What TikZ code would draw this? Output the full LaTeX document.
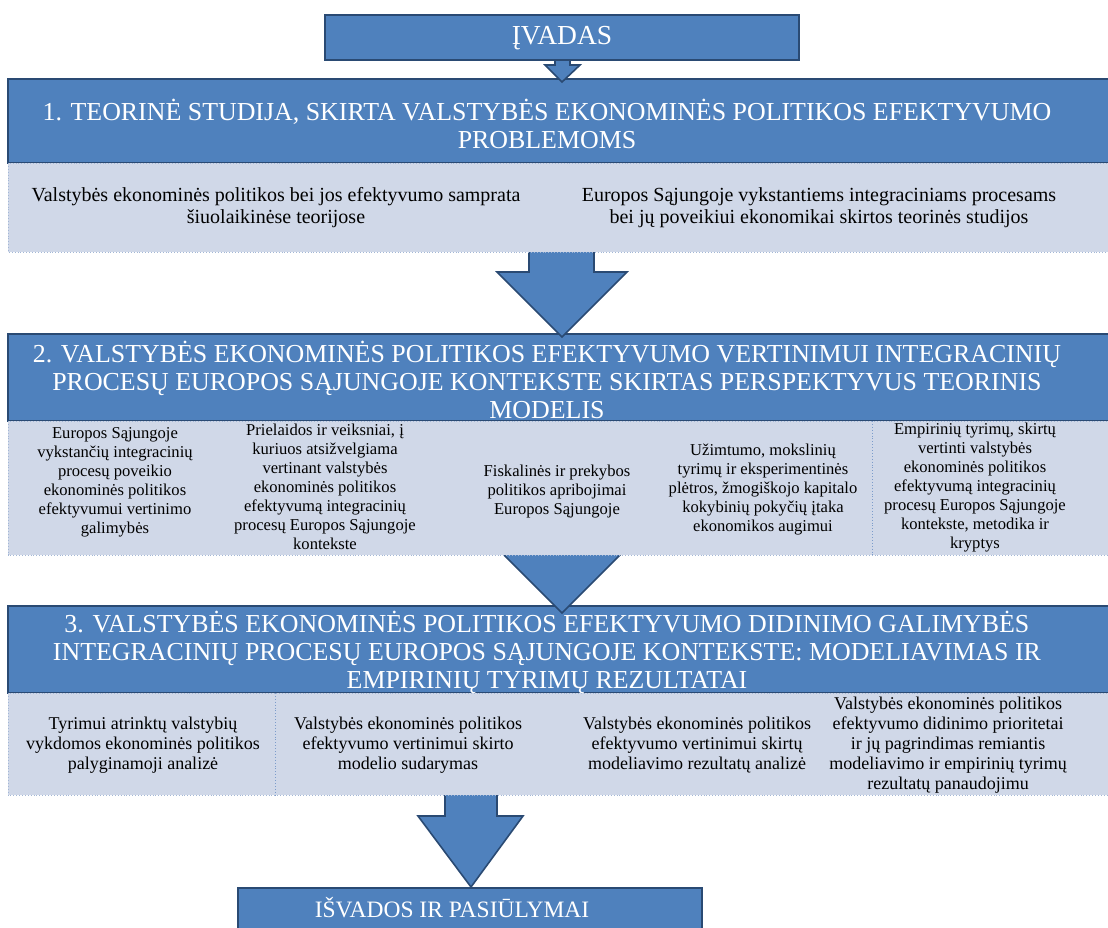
\documentclass[tikz,border=0pt]{standalone}
\usepackage{fontspec}
\setmainfont{Liberation Serif}
\definecolor{hdr}{HTML}{4F81BD}
\definecolor{navy}{HTML}{2A4A73}
\definecolor{bodyfill}{HTML}{D0D8E8}
\definecolor{dotc}{HTML}{A3B7D6}
\definecolor{sepc}{HTML}{7C9CCB}
\begin{document}
\begin{tikzpicture}[x=1pt,y=-1pt,
  hdrbox/.style={draw=navy,line width=1.6pt,fill=hdr},
  bodybox/.style={draw=dotc,dotted,line width=0.9pt,fill=bodyfill},
  colsep/.style={draw=sepc,dotted,line width=0.9pt},
  blockarrow/.style={draw=navy,line width=1.6pt,fill=hdr,line join=miter},
  htext/.style={text=white,align=center,inner sep=0pt,font=\fontsize{25.9}{28}\selectfont},
  ptext/.style={text=black,align=center,inner sep=0pt,font=\fontsize{16.6}{19}\selectfont},
  qtext/.style={text=black,align=center,inner sep=0pt,font=\fontsize{18}{20}\selectfont},
  rtext/.style={text=black,align=center,inner sep=0pt,font=\fontsize{20}{22}\selectfont}]
\useasboundingbox (0,0) rectangle (1108,927);
\clip (0,0) rectangle (1108,927);

% closing box
\path[hdrbox] (238,888) rectangle (702,940);
\node[htext,font=\fontsize{23.5}{26}\selectfont] (end) at (452,908) {IŠVADOS IR PASIŪLYMAI};

% arrow from part 3
\coordinate (a3tip) at (471,887);
\path[blockarrow] (445,780) -- (445,816) -- (418,816) -- (a3tip) -- (523,816) -- (497,816) -- (497,780) -- cycle;

% part 3
\path[hdrbox] (8,606) rectangle (1118,693);
\path[bodybox] (8,693) rectangle (1118,795);
\draw[colsep] (275,693) -- (275,795);
\node[htext] (h3) at (547,652) {3. VALSTYBĖS EKONOMINĖS POLITIKOS EFEKTYVUMO DIDINIMO GALIMYBĖS\\
INTEGRACINIŲ PROCESŲ EUROPOS SĄJUNGOJE KONTEKSTE: MODELIAVIMAS IR\\
EMPIRINIŲ TYRIMŲ REZULTATAI};
\node[qtext] (d1) at (143,745) {Tyrimui atrinktų valstybių\\ vykdomos ekonominės politikos\\ palyginamoji analizė};
\node[qtext] (d2) at (408,745) {Valstybės ekonominės politikos\\ efektyvumo vertinimui skirto\\ modelio sudarymas};
\node[qtext] (d3) at (697,745) {Valstybės ekonominės politikos\\ efektyvumo vertinimui skirtų\\ modeliavimo rezultatų analizė};
\node[qtext] (d4) at (948,745) {Valstybės ekonominės politikos\\ efektyvumo didinimo prioritetai\\ ir jų pagrindimas remiantis\\ modeliavimo ir empirinių tyrimų\\ rezultatų panaudojimu};

% arrow from part 2
\coordinate (a2tip) at (562,613);
\path[blockarrow] (529,530) -- (529,548) -- (497,548) -- (a2tip) -- (627,548) -- (594,548) -- (594,530) -- cycle;

% part 2
\path[hdrbox] (8,334) rectangle (1118,421);
\path[bodybox] (8,421) rectangle (1118,555);
\draw[colsep] (872,421) -- (872,555);
\node[htext] (h2) at (547,380) {2. VALSTYBĖS EKONOMINĖS POLITIKOS EFEKTYVUMO VERTINIMUI INTEGRACINIŲ\\
PROCESŲ EUROPOS SĄJUNGOJE KONTEKSTE SKIRTAS PERSPEKTYVUS TEORINIS\\
MODELIS};
\node[ptext] (c1) at (115,482) {Europos Sąjungoje\\ vykstančių integracinių\\ procesų poveikio\\ ekonominės politikos\\ efektyvumui vertinimo\\ galimybės};
\node[ptext] (c2) at (325,487) {Prielaidos ir veiksniai, į\\ kuriuos atsižvelgiama\\ vertinant valstybės\\ ekonominės politikos\\ efektyvumą integracinių\\ procesų Europos Sąjungoje\\ kontekste};
\node[ptext] (c3) at (557,492) {Fiskalinės ir prekybos\\ politikos apribojimai\\ Europos Sąjungoje};
\node[ptext] (c4) at (763,490) {Užimtumo, mokslinių\\ tyrimų ir eksperimentinės\\ plėtros, žmogiškojo kapitalo\\ kokybinių pokyčių įtaka\\ ekonomikos augimui};
\node[ptext] (c5) at (975,488) {Empirinių tyrimų, skirtų\\ vertinti valstybės\\ ekonominės politikos\\ efektyvumą integracinių\\ procesų Europos Sąjungoje\\ kontekste, metodika ir\\ kryptys};

% arrow from part 1
\coordinate (a1tip) at (562,337);
\path[blockarrow] (529,240) -- (529,272) -- (497,272) -- (a1tip) -- (627,272) -- (594,272) -- (594,240) -- cycle;

% part 1
\path[hdrbox] (8,79) rectangle (1118,163);
\path[bodybox] (8,163) rectangle (1118,252);
\node[htext] (h1) at (547,124) {1. TEORINĖ STUDIJA, SKIRTA VALSTYBĖS EKONOMINĖS POLITIKOS EFEKTYVUMO\\ PROBLEMOMS};
\node[rtext] (e1) at (276,208) {Valstybės ekonominės politikos bei jos efektyvumo samprata\\ šiuolaikinėse teorijose};
\node[rtext] (e2) at (819,208) {Europos Sąjungoje vykstantiems integraciniams procesams\\ bei jų poveikiui ekonomikai skirtos teorinės studijos};

% arrow from the introduction
\coordinate (a0tip) at (562,82);
\path[blockarrow] (555,50) -- (555,65) -- (545,65) -- (a0tip) -- (580,65) -- (570,65) -- (570,50) -- cycle;

% introduction
\path[hdrbox] (325,15) rectangle (799,60);
\node[htext,font=\fontsize{27.5}{30}\selectfont] (intro) at (562,38) {ĮVADAS};
\end{tikzpicture}
\end{document}
